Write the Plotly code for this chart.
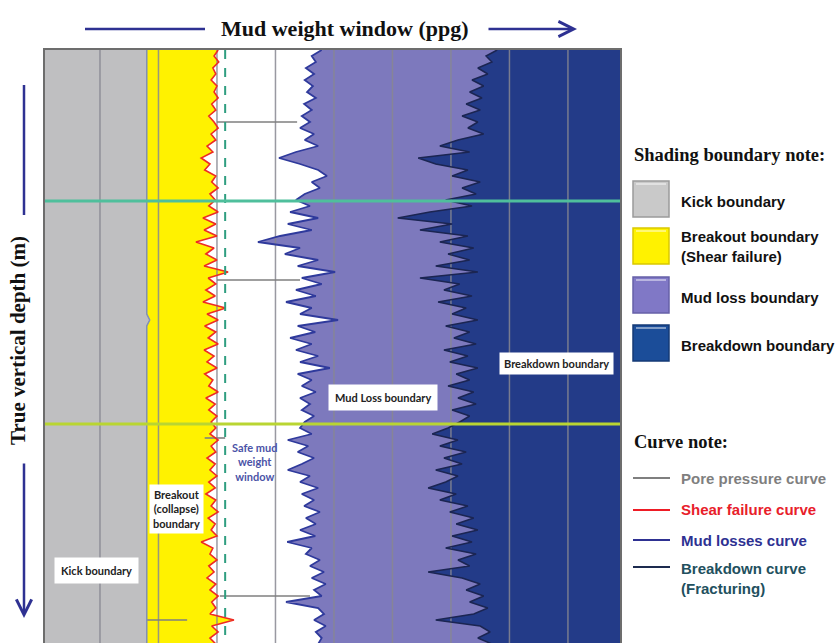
import plotly.graph_objects as go

# ---------------- data ----------------
DEPTH_M = [2000, 2006, 2012, 2018, 2024, 2030, 2036, 2042, 2048, 2054,
           2060, 2066, 2072, 2078, 2084, 2090, 2096, 2102, 2108, 2114,
           2120, 2126, 2132, 2138, 2144, 2150, 2156, 2162, 2168, 2174,
           2180, 2186, 2192, 2198, 2204, 2210, 2216, 2222, 2228, 2234,
           2240, 2246, 2252, 2258, 2264, 2270, 2276, 2282, 2288, 2294,
           2300, 2306, 2312, 2318, 2324, 2330, 2336, 2342, 2348, 2354,
           2360, 2366, 2372, 2378, 2384, 2390, 2396, 2402, 2408, 2414,
           2420, 2426, 2432, 2438, 2444, 2450, 2456, 2462, 2468, 2474,
           2480, 2486, 2492, 2498, 2504, 2510, 2516, 2522, 2528, 2534,
           2540, 2546, 2552, 2558, 2564, 2570, 2576, 2582, 2588, 2594]

PORE_PRESSURE_PPG = [8.80, 8.80, 8.80, 8.80, 8.80, 8.80, 8.80, 8.80, 8.80, 8.80,
                     8.80, 8.80, 8.80, 8.80, 8.80, 8.80, 8.80, 8.80, 8.80, 8.80,
                     8.80, 8.80, 8.80, 8.80, 8.80, 8.80, 8.80, 8.80, 8.80, 8.80,
                     8.80, 8.80, 8.80, 8.80, 8.80, 8.80, 8.80, 8.80, 8.80, 8.80,
                     8.80, 8.80, 8.80, 8.80, 8.80, 8.85, 8.80, 8.80, 8.80, 8.80,
                     8.80, 8.80, 8.80, 8.80, 8.80, 8.80, 8.80, 8.80, 8.80, 8.80,
                     8.80, 8.80, 8.80, 8.80, 8.80, 8.80, 8.80, 8.80, 8.80, 8.80,
                     8.80, 8.80, 8.80, 8.80, 8.80, 8.80, 8.80, 8.80, 8.80, 8.80,
                     8.80, 8.80, 8.80, 8.80, 8.80, 8.80, 8.80, 8.80, 8.80, 8.80,
                     8.80, 8.80, 8.80, 8.80, 8.80, 8.80, 8.80, 8.80, 8.80, 8.80]

SHEAR_FAILURE_PPG = [10.02, 9.95, 10.03, 9.93, 9.98, 9.90, 10.00, 9.95, 10.02, 9.91,
                     9.98, 9.86, 9.95, 10.02, 9.90, 9.98, 9.83, 9.93, 9.73, 9.88,
                     9.79, 9.98, 9.91, 10.02, 9.88, 9.97, 9.86, 10.02, 9.76, 9.98,
                     9.78, 10.00, 9.64, 9.95, 9.81, 10.00, 9.78, 10.19, 9.85, 9.98,
                     9.81, 9.97, 9.76, 10.15, 9.83, 10.02, 9.79, 9.98, 9.85, 10.02,
                     9.78, 9.95, 9.83, 10.00, 9.79, 9.93, 9.86, 10.02, 9.81, 9.97,
                     9.86, 10.00, 9.90, 9.98, 9.88, 10.02, 9.90, 9.98, 9.83, 9.97,
                     9.88, 10.00, 9.86, 9.97, 9.81, 9.98, 9.90, 10.02, 9.85, 9.97,
                     9.90, 10.00, 9.73, 9.93, 9.88, 10.00, 9.86, 9.95, 9.83, 9.98,
                     9.88, 10.02, 9.91, 9.98, 9.88, 10.29, 9.91, 10.02, 9.88, 9.98]

MUD_LOSS_PPG = [11.79, 11.62, 11.69, 11.52, 11.66, 11.50, 11.64, 11.54, 11.69, 11.49,
                11.62, 11.45, 11.59, 11.42, 11.66, 11.50, 11.73, 11.35, 11.06, 11.42,
                11.73, 11.88, 11.62, 11.76, 11.50, 11.35, 11.59, 11.25, 11.73, 11.21,
                11.62, 11.08, 10.70, 11.42, 11.16, 11.73, 11.38, 12.02, 11.45, 11.79,
                11.35, 11.69, 11.18, 11.62, 11.42, 12.07, 11.38, 11.68, 11.25, 11.62,
                11.35, 11.73, 11.42, 11.93, 11.38, 11.62, 11.45, 11.69, 11.42, 11.59,
                11.45, 11.66, 11.50, 11.42, 11.62, 11.21, 11.56, 11.38, 11.66, 11.45,
                11.21, 11.59, 11.42, 11.73, 11.45, 11.66, 11.49, 11.76, 11.52, 11.69,
                11.42, 11.68, 11.20, 11.62, 11.52, 11.76, 11.59, 11.83, 11.62, 11.86,
                11.66, 11.79, 11.18, 11.73, 11.83, 11.66, 11.86, 11.69, 11.79, 11.73]

BREAKDOWN_PPG = [14.79, 14.60, 14.70, 14.46, 14.63, 14.36, 14.56, 14.32, 14.53, 14.26,
                 14.50, 14.19, 14.46, 14.29, 14.56, 14.12, 13.81, 14.32, 13.44, 13.74,
                 14.29, 14.02, 14.50, 14.19, 14.43, 13.91, 14.36, 13.64, 13.09, 14.02,
                 13.47, 14.29, 13.81, 14.39, 13.95, 14.32, 13.74, 14.46, 13.47, 14.15,
                 13.88, 14.36, 13.78, 14.26, 14.02, 14.46, 13.91, 14.32, 14.05, 14.43,
                 13.88, 14.29, 13.98, 14.46, 14.09, 14.32, 13.95, 14.39, 14.12, 14.43,
                 14.02, 14.32, 14.15, 13.95, 13.68, 14.12, 13.81, 14.26, 13.88, 14.19,
                 13.74, 14.12, 13.91, 13.61, 14.09, 13.81, 14.29, 13.98, 14.39, 14.09,
                 14.46, 14.02, 14.36, 13.91, 14.43, 14.12, 14.32, 13.61, 14.19, 14.50,
                 14.26, 14.56, 14.32, 14.63, 14.39, 13.74, 14.50, 14.67, 14.46, 14.70]

GRID_PPG = [8, 9, 10, 11, 12, 13, 14, 15, 16]
SAFE_WINDOW_LINE_PPG = 10.14
MARKER_DEPTHS_M = [2151, 2374]
MARKER_COLORS = ["#4fbf9c", "#b9d532"]
# pore-pressure bracket segments: depth, from ppg, to ppg
SEG_DEPTH_M = [2072, 2230, 2388, 2546, 2570]
SEG_FROM_PPG = [10.00, 10.00, 9.79, 10.05, 8.80]
SEG_TO_PPG = [11.37, 11.42, 10.14, 11.59, 9.49]

X_RANGE = [7.06, 16.89]
Y_RANGE = [2593, 2000]

C_GRAY = "#bfbfc1"
C_YELLOW = "#fff200"
C_PURPLE = "#7d79bd"
C_DARK = "#233b88"

W, H = 835, 643
L, R, T, B = 45, 215, 50, 0
PW, PH = W - L - R, H - T - B


def px(xp):
    return (xp - L) / PW


def py(yp):
    return (H - B - yp) / PH


fig = go.Figure()

# shaded regions
fig.add_trace(go.Scatter(x=PORE_PRESSURE_PPG, y=DEPTH_M, mode="lines", fill="tozerox",
                         fillcolor=C_GRAY, line=dict(width=0), hoverinfo="skip"))
fig.add_trace(go.Scatter(x=SHEAR_FAILURE_PPG, y=DEPTH_M, mode="lines", fill="tonextx",
                         fillcolor=C_YELLOW, line=dict(width=0), hoverinfo="skip"))
fig.add_trace(go.Scatter(x=MUD_LOSS_PPG, y=DEPTH_M, mode="lines", fill="tonextx",
                         fillcolor="white", line=dict(width=0), hoverinfo="skip"))
fig.add_trace(go.Scatter(x=BREAKDOWN_PPG, y=DEPTH_M, mode="lines", fill="tonextx",
                         fillcolor=C_PURPLE, line=dict(width=0), hoverinfo="skip"))

# grid lines above the shading
gx, gy = [], []
for g in GRID_PPG:
    gx += [g, g, None]
    gy += [Y_RANGE[1], Y_RANGE[0], None]
fig.add_trace(go.Scatter(x=gx, y=gy, mode="lines",
                         line=dict(color="rgba(135,135,145,0.85)", width=1.5), hoverinfo="skip"))

# pore pressure bracket segments
sx, sy = [], []
for d, a, b in zip(SEG_DEPTH_M, SEG_FROM_PPG, SEG_TO_PPG):
    sx += [a, b, None]
    sy += [d, d, None]
fig.add_trace(go.Scatter(x=sx, y=sy, mode="lines", line=dict(color="#7f7f7f", width=1.6),
                         hoverinfo="skip"))

# curves
fig.add_trace(go.Scatter(x=PORE_PRESSURE_PPG, y=DEPTH_M, mode="lines",
                         line=dict(color="#8090b8", width=1.5)))
fig.add_trace(go.Scatter(x=SHEAR_FAILURE_PPG, y=DEPTH_M, mode="lines",
                         line=dict(color="#ee2b24", width=1.6)))
fig.add_trace(go.Scatter(x=MUD_LOSS_PPG, y=DEPTH_M, mode="lines",
                         line=dict(color="#2f3a9c", width=1.8)))
fig.add_trace(go.Scatter(x=BREAKDOWN_PPG, y=DEPTH_M, mode="lines",
                         line=dict(color="#1b2552", width=1.5)))

shapes = []
# safe window dashed line
shapes.append(dict(type="line", xref="x", yref="y", x0=SAFE_WINDOW_LINE_PPG, x1=SAFE_WINDOW_LINE_PPG,
                   y0=Y_RANGE[1], y1=Y_RANGE[0], line=dict(color="#2f9e80", width=2, dash="dash"),
                   layer="above"))
for d, c in zip(MARKER_DEPTHS_M, MARKER_COLORS):
    shapes.append(dict(type="line", xref="paper", yref="y", x0=0, x1=1, y0=d, y1=d,
                       line=dict(color=c, width=3), layer="above"))

NAVY = "#2e3192"
# title decoration lines
shapes.append(dict(type="line", xref="paper", yref="paper", x0=px(85), x1=px(205),
                   y0=py(29), y1=py(29), line=dict(color=NAVY, width=2.5)))
shapes.append(dict(type="line", xref="paper", yref="paper", x0=px(24), x1=px(24),
                   y0=py(85), y1=py(215), line=dict(color=NAVY, width=2.5)))

# legend swatches
SW_NAMES = ["Kick boundary", "Breakout boundary<br>(Shear failure)", "Mud loss boundary",
            "Breakdown boundary"]
SW_COLORS = [("#c9c9c9", "#9b9b9b"), ("#fff200", "#d9c800"), ("#8078c6", "#6660a8"),
             ("#1b4d99", "#143a75")]
SW_TOP = [181, 228, 277, 325]
SW_TEXT_Y = [202, 247, 297, 345]
for (fc, lc), t in zip(SW_COLORS, SW_TOP):
    shapes.append(dict(type="rect", xref="paper", yref="paper", x0=px(633), x1=px(669),
                       y0=py(t + 36), y1=py(t), fillcolor=fc, line=dict(color=lc, width=1.5)))
    shapes.append(dict(type="line", xref="paper", yref="paper", x0=px(636), x1=px(666),
                       y0=py(t + 3), y1=py(t + 3), line=dict(color="rgba(255,255,255,0.45)", width=2)))

CURVE_NAMES = ["Pore pressure curve", "Shear failure curve", "Mud losses curve",
               "Breakdown curve<br>(Fracturing)"]
CURVE_LINE_COLORS = ["#7f7f7f", "#ee1c25", "#2e3192", "#1d2b4f"]
CURVE_TEXT_COLORS = ["#7f7f7f", "#e8202a", "#2e3192", "#22505e"]
CURVE_LINE_Y = [478, 510, 540, 567]
CURVE_TEXT_Y = [478, 510, 540, 578]
for c, yv in zip(CURVE_LINE_COLORS, CURVE_LINE_Y):
    shapes.append(dict(type="line", xref="paper", yref="paper", x0=px(633), x1=px(670),
                       y0=py(yv), y1=py(yv), line=dict(color=c, width=2)))

ann = []
SERIF = "Liberation Serif"
SANS = "Liberation Sans"
LBL = "Lato"


def note(x, y, text, font, xanchor="center", **kw):
    d = dict(xref="paper", yref="paper", x=px(x), y=py(y), text=text, showarrow=False,
             xanchor=xanchor, yanchor="middle", font=font)
    d.update(kw)
    ann.append(d)


note(345, 29, "<b>Mud weight window (ppg)</b>", dict(family=SERIF, size=22, color="#111"))
ann.append(dict(xref="paper", yref="paper", x=px(577), y=py(29), ax=-90, ay=0, text="",
                showarrow=True, arrowhead=5, arrowsize=1.2, arrowwidth=2.5, arrowcolor=NAVY))
note(18, 341, "<b>True vertical depth (m)</b>", dict(family=SERIF, size=21, color="#111"),
     textangle=-90)
ann.append(dict(xref="paper", yref="paper", x=px(24), y=py(618), ax=0, ay=-156, text="",
                showarrow=True, arrowhead=5, arrowsize=1.2, arrowwidth=2.5, arrowcolor=NAVY))

note(632, 155, "<b>Shading boundary note:</b>", dict(family=SERIF, size=18.5, color="#111"),
     xanchor="left")
note(632, 442, "<b>Curve note:</b>", dict(family=SERIF, size=18.5, color="#111"), xanchor="left")
for name, yv in zip(SW_NAMES, SW_TEXT_Y):
    note(679, yv, "<b>" + name + "</b>", dict(family=SANS, size=15, color="#111"),
         xanchor="left", align="left")
for name, c, yv in zip(CURVE_NAMES, CURVE_TEXT_COLORS, CURVE_TEXT_Y):
    note(679, yv, "<b>" + name + "</b>", dict(family=SANS, size=15, color=c),
         xanchor="left", align="left")

# region labels inside the plot
BOXES = [("Kick boundary", 96, 570, 6), ("Breakout<br>(collapse)<br>boundary", 176, 509, 3),
         ("Mud Loss boundary", 383, 398, 6), ("Breakdown boundary", 556, 363, 4)]
for txt, xx, yy, pad in BOXES:
    note(xx, yy, "<b>" + txt + "</b>", dict(family=LBL, size=11, color="#222"),
         bgcolor="white", borderpad=pad)
note(254, 462, "<b>Safe mud<br>weight<br>window</b>", dict(family=LBL, size=11, color="#4b53a7"))

fig.update_layout(
    width=W, height=H, margin=dict(l=L, r=R, t=T, b=B),
    paper_bgcolor="white", plot_bgcolor=C_DARK, showlegend=False,
    xaxis=dict(range=X_RANGE, showgrid=False, zeroline=False, showticklabels=False, ticks="",
               showline=True, mirror=True, linecolor="#6d6d6d", linewidth=1.5),
    yaxis=dict(range=Y_RANGE, showgrid=False, zeroline=False, showticklabels=False, ticks="",
               showline=True, mirror=True, linecolor="#6d6d6d", linewidth=1.5),
    shapes=shapes, annotations=ann,
)

fig.write_html("out.html", config={"displayModeBar": False},
               post_script="document.body.style.margin='0px';")
